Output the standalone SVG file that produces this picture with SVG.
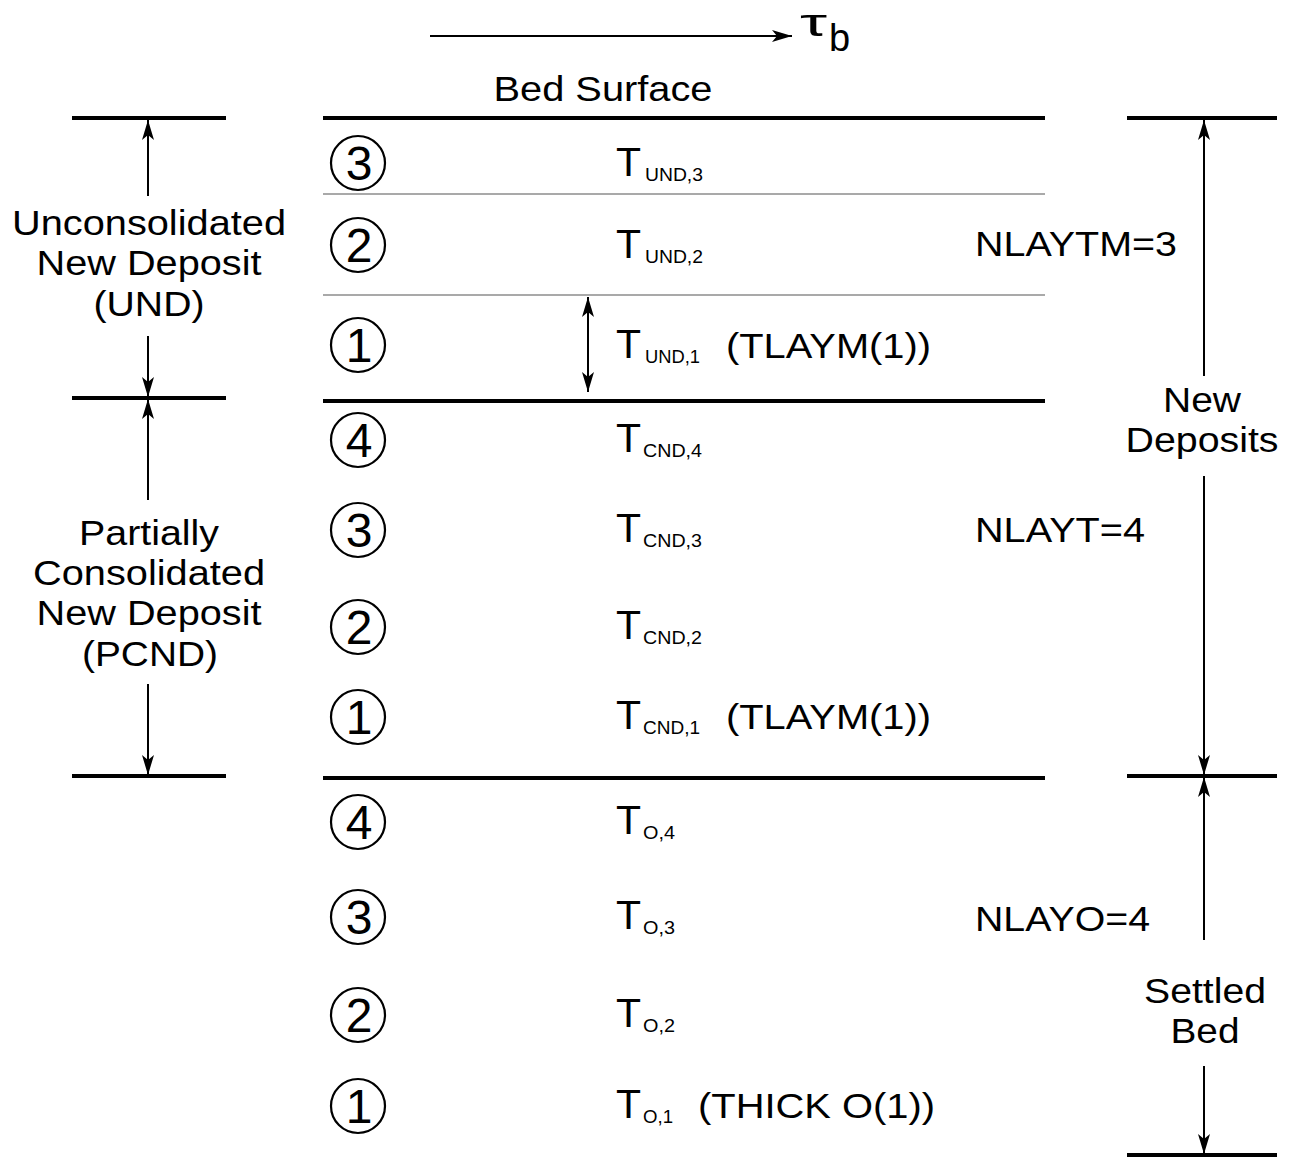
<svg xmlns="http://www.w3.org/2000/svg" width="1293" height="1158" viewBox="0 0 1293 1158">
<defs>
<marker id="ah" viewBox="0 0 20 12" refX="20" refY="6" markerWidth="20" markerHeight="12" markerUnits="userSpaceOnUse" orient="auto-start-reverse">
<path d="M0,0 L20,6 L0,12 L5,6 Z" fill="#000"/>
</marker>
</defs>
<style>
text{font-family:"Liberation Sans",Arial,sans-serif;fill:#000}
.lbl{font-size:35px;text-anchor:middle}
.lft{font-size:35px}
.big{font-size:41px}
.sub{font-size:18px}
.num{font-size:48px;text-anchor:middle}
.thick{stroke:#000;stroke-width:4}
.thin{stroke:#555;stroke-width:1.2}
.arr{stroke:#000;stroke-width:2;fill:none}
circle{fill:none;stroke:#000;stroke-width:2.2}
</style>
<rect width="1293" height="1158" fill="#fff"/>
<g id="header">
<line class="arr" x1="430" y1="36" x2="792" y2="36" marker-end="url(#ah)"/>
<text x="800" y="35.5" style="font-size:39px" textLength="27" lengthAdjust="spacingAndGlyphs">τ</text>
<text x="829" y="51" style="font-size:38px">b</text>
<text x="603" y="101" class="lbl" textLength="219" lengthAdjust="spacingAndGlyphs">Bed Surface</text>
</g>
<g id="layers">
<line class="thick" x1="323" y1="118" x2="1045" y2="118"/>
<line class="thin" x1="323" y1="194" x2="1045" y2="194"/>
<line class="thin" x1="323" y1="295" x2="1045" y2="295"/>
<line class="thick" x1="323" y1="401" x2="1045" y2="401"/>
<line class="thick" x1="323" y1="778" x2="1045" y2="778"/>
<line class="thick" x1="72" y1="118" x2="226" y2="118"/>
<line class="thick" x1="72" y1="398" x2="226" y2="398"/>
<line class="thick" x1="72" y1="776" x2="226" y2="776"/>
<line class="thick" x1="1127" y1="118" x2="1277" y2="118"/>
<line class="thick" x1="1127" y1="776" x2="1277" y2="776"/>
<line class="thick" x1="1127" y1="1155" x2="1277" y2="1155"/>
</g>
<g id="connectors">
<line class="arr" x1="148" y1="196" x2="148" y2="120" marker-end="url(#ah)"/>
<line class="arr" x1="148" y1="336" x2="148" y2="397" marker-end="url(#ah)"/>
<line class="arr" x1="148" y1="500" x2="148" y2="399" marker-end="url(#ah)"/>
<line class="arr" x1="148" y1="684" x2="148" y2="775" marker-end="url(#ah)"/>
<line class="arr" x1="1204" y1="376" x2="1204" y2="120" marker-end="url(#ah)"/>
<line class="arr" x1="1204" y1="476" x2="1204" y2="775" marker-end="url(#ah)"/>
<line class="arr" x1="1204" y1="940" x2="1204" y2="777" marker-end="url(#ah)"/>
<line class="arr" x1="1204" y1="1066" x2="1204" y2="1154" marker-end="url(#ah)"/>
<line class="arr" x1="588" y1="297" x2="588" y2="392" marker-start="url(#ah)" marker-end="url(#ah)"/>
</g>
<g id="left-labels">
<text class="lbl" x="149" y="235" textLength="274" lengthAdjust="spacingAndGlyphs">Unconsolidated</text>
<text class="lbl" x="149" y="275" textLength="225" lengthAdjust="spacingAndGlyphs">New Deposit</text>
<text class="lbl" x="149" y="316" textLength="111" lengthAdjust="spacingAndGlyphs">(UND)</text>
<text class="lbl" x="149" y="545" textLength="140" lengthAdjust="spacingAndGlyphs">Partially</text>
<text class="lbl" x="149" y="585" textLength="232" lengthAdjust="spacingAndGlyphs">Consolidated</text>
<text class="lbl" x="149" y="625" textLength="225" lengthAdjust="spacingAndGlyphs">New Deposit</text>
<text class="lbl" x="150" y="666" textLength="136" lengthAdjust="spacingAndGlyphs">(PCND)</text>
</g>
<g id="right-labels">
<text class="lbl" x="1202" y="412" textLength="78" lengthAdjust="spacingAndGlyphs">New</text>
<text class="lbl" x="1202" y="452" textLength="153" lengthAdjust="spacingAndGlyphs">Deposits</text>
<text class="lbl" x="1205" y="1003" textLength="122" lengthAdjust="spacingAndGlyphs">Settled</text>
<text class="lbl" x="1205" y="1043" textLength="69" lengthAdjust="spacingAndGlyphs">Bed</text>
<text class="lft" x="975" y="256" textLength="202" lengthAdjust="spacingAndGlyphs">NLAYTM=3</text>
<text class="lft" x="975" y="542" textLength="170" lengthAdjust="spacingAndGlyphs">NLAYT=4</text>
<text class="lft" x="975" y="931" textLength="175" lengthAdjust="spacingAndGlyphs">NLAYO=4</text>
</g>
<g id="circles">
<circle cx="358" cy="163" r="27"/><text class="num" x="359" y="180">3</text>
<circle cx="358" cy="245" r="27"/><text class="num" x="359" y="262">2</text>
<circle cx="358" cy="345" r="27"/><text class="num" x="359" y="362">1</text>
<circle cx="358" cy="440" r="27"/><text class="num" x="359" y="457">4</text>
<circle cx="358" cy="530" r="27"/><text class="num" x="359" y="547">3</text>
<circle cx="358" cy="627" r="27"/><text class="num" x="359" y="644">2</text>
<circle cx="358" cy="717" r="27"/><text class="num" x="359" y="734">1</text>
<circle cx="358" cy="822" r="27"/><text class="num" x="359" y="839">4</text>
<circle cx="358" cy="917" r="27"/><text class="num" x="359" y="934">3</text>
<circle cx="358" cy="1015" r="27"/><text class="num" x="359" y="1032">2</text>
<circle cx="358" cy="1106" r="27"/><text class="num" x="359" y="1123">1</text>
</g>
<g id="thickness-labels">
<text x="616" y="176"><tspan class="big">T</tspan></text><text x="645" y="181" class="sub" textLength="58" lengthAdjust="spacingAndGlyphs">UND,3</text>
<text x="616" y="258"><tspan class="big">T</tspan></text><text x="645" y="263" class="sub" textLength="58" lengthAdjust="spacingAndGlyphs">UND,2</text>
<text x="616" y="358"><tspan class="big">T</tspan></text><text x="645" y="363" class="sub" textLength="55" lengthAdjust="spacingAndGlyphs">UND,1</text>
<text x="726" y="358" class="lft" textLength="205" lengthAdjust="spacingAndGlyphs">(TLAYM(1))</text>
<text x="616" y="452"><tspan class="big">T</tspan></text><text x="643" y="457" class="sub" textLength="59" lengthAdjust="spacingAndGlyphs">CND,4</text>
<text x="616" y="542"><tspan class="big">T</tspan></text><text x="643" y="547" class="sub" textLength="59" lengthAdjust="spacingAndGlyphs">CND,3</text>
<text x="616" y="639"><tspan class="big">T</tspan></text><text x="643" y="644" class="sub" textLength="59" lengthAdjust="spacingAndGlyphs">CND,2</text>
<text x="616" y="729"><tspan class="big">T</tspan></text><text x="643" y="734" class="sub" textLength="57" lengthAdjust="spacingAndGlyphs">CND,1</text>
<text x="726" y="729" class="lft" textLength="205" lengthAdjust="spacingAndGlyphs">(TLAYM(1))</text>
<text x="616" y="834"><tspan class="big">T</tspan></text><text x="643" y="839" class="sub" textLength="32" lengthAdjust="spacingAndGlyphs">O,4</text>
<text x="616" y="929"><tspan class="big">T</tspan></text><text x="643" y="934" class="sub" textLength="32" lengthAdjust="spacingAndGlyphs">O,3</text>
<text x="616" y="1027"><tspan class="big">T</tspan></text><text x="643" y="1032" class="sub" textLength="32" lengthAdjust="spacingAndGlyphs">O,2</text>
<text x="616" y="1118"><tspan class="big">T</tspan></text><text x="643" y="1123" class="sub" textLength="30" lengthAdjust="spacingAndGlyphs">O,1</text>
<text x="698" y="1118" class="lft" textLength="237" lengthAdjust="spacingAndGlyphs">(THICK O(1))</text>
</g>
</svg>
